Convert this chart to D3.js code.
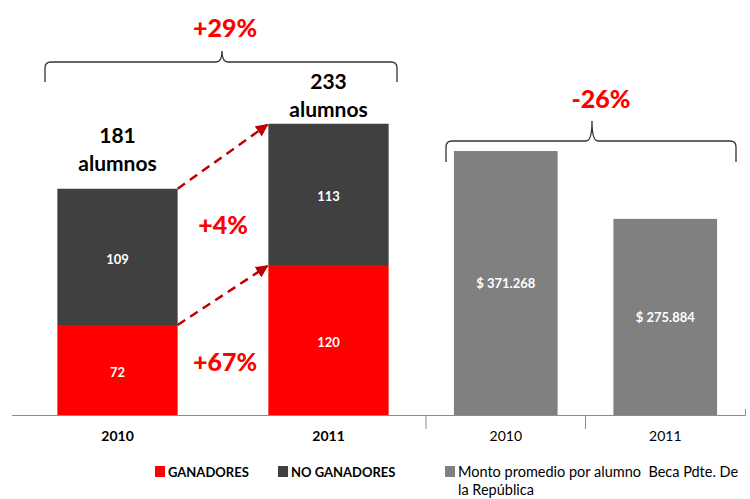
<!DOCTYPE html>
<html>
<head>
<meta charset="utf-8">
<script src="https://cdn.jsdelivr.net/npm/d3@7"></script>
<style>
  body { margin: 0; background: #fff; }
  text { font-family: Lato, "Open Sans", sans-serif; }
</style>
</head>
<body>
<div id="chart"></div>
<script>
// data
var years = ["2010", "2011"];
var ganadores = [72, 120];
var noGanadores = [109, 113];
var montoYears = ["2010", "2011"];
var monto = [371268, 275884];
var alumnoChanges = ["+4%", "+67%"];
var totalChange = "+29%";
var montoChange = "-26%";

var width = 750, height = 499;
var baseY = 415;

var colors = { gan: "#ff0000", nogan: "#404040", monto: "#808080", arrow: "#c00000", pct: "#ff0000" };

var svg = d3.select("#chart").append("svg")
  .attr("width", width)
  .attr("height", height);

var defs = svg.append("defs");
defs.append("marker")
  .attr("id", "arrow")
  .attr("viewBox", "0 0 10 10")
  .attr("refX", 9).attr("refY", 5)
  .attr("markerWidth", 5).attr("markerHeight", 5)
  .attr("orient", "auto")
  .append("path")
  .attr("d", "M0,0 L10,5 L0,10 z")
  .attr("fill", colors.arrow);

function pctLabel(x, y, txt) {
  svg.append("text")
    .attr("x", x).attr("y", y)
    .attr("text-anchor", "middle").attr("font-weight", 900)
    .attr("font-size", 25).attr("fill", colors.pct)
    .text(txt);
}

// ---------- left chart: stacked alumnos ----------
var xL = d3.scaleBand().domain(years).range([12, 434])
  .paddingInner(0.43).paddingOuter(0.215);
var yL = d3.scaleLinear().domain([0, 250]).range([baseY, baseY - 312.5]);

var stackData = years.map(function(y, i) {
  return { year: y, gan: ganadores[i], nogan: noGanadores[i] };
});
var series = d3.stack().keys(["gan", "nogan"])(stackData);

var left = svg.append("g").attr("class", "left");

series.forEach(function(s) {
  left.selectAll(".bar-" + s.key)
    .data(s).enter()
    .append("rect")
    .attr("x", (d) => xL(d.data.year))
    .attr("y", (d) => yL(d[1]))
    .attr("width", xL.bandwidth())
    .attr("height", (d) => yL(d[0]) - yL(d[1]))
    .attr("fill", colors[s.key]);

  left.selectAll(".lab-" + s.key)
    .data(s).enter()
    .append("text")
    .attr("x", (d) => xL(d.data.year) + xL.bandwidth() / 2)
    .attr("y", (d) => (yL(d[0]) + yL(d[1])) / 2 + 7)
    .attr("text-anchor", "middle")
    .attr("fill", "#fff")
    .attr("font-weight", "bold")
    .attr("font-size", 13)
    .text((d) => d[1] - d[0]);
});

// totals above bars (the 2011 one sits lower, under the brace)
var totalGap = [46, 35];
stackData.forEach(function(d, i) {
  var cx = xL(d.year) + xL.bandwidth() / 2;
  var top = yL(d.gan + d.nogan);
  var t = left.append("text")
    .attr("x", cx)
    .attr("text-anchor", "middle")
    .attr("font-weight", "bold")
    .attr("font-size", 21)
    .attr("fill", "#000");
  t.append("tspan").attr("x", cx).attr("y", top - totalGap[i]).text(d.gan + d.nogan);
  t.append("tspan").attr("x", cx).attr("y", top - totalGap[i] + 28).text("alumnos");
});

// dashed arrows between bars
var x0 = xL(years[0]) + xL.bandwidth(), x1 = xL(years[1]);
[0, 1].forEach(function(k) {
  var a = k === 0 ? stackData[0].gan : stackData[0].gan + stackData[0].nogan;
  var b = k === 0 ? stackData[1].gan : stackData[1].gan + stackData[1].nogan;
  left.append("line")
    .attr("x1", x0).attr("y1", yL(a))
    .attr("x2", x1 - 1).attr("y2", yL(b) + 1)
    .attr("stroke", colors.arrow)
    .attr("stroke-width", 2.5)
    .attr("stroke-dasharray", "9,6")
    .attr("marker-end", "url(#arrow)");
});

// change labels between bars
var midL = (x0 + x1) / 2;
pctLabel(midL, 234, alumnoChanges[0]);
pctLabel(midL + 2, 371, alumnoChanges[1]);

// ---------- right chart: monto promedio ----------
var xR = d3.scaleBand().domain(montoYears).range([426, 745])
  .paddingInner(0.35).paddingOuter(0.175);
var yR = d3.scaleLinear().domain([0, 400000]).range([baseY, baseY - 284.4]);

var fmt = function(v) { return "$ " + d3.format(",")(v).replace(/,/g, "."); };

var right = svg.append("g").attr("class", "right");
right.selectAll("rect")
  .data(monto).enter()
  .append("rect")
  .attr("x", (d, i) => xR(montoYears[i]))
  .attr("y", (d) => yR(d))
  .attr("width", xR.bandwidth())
  .attr("height", (d) => baseY - yR(d))
  .attr("fill", colors.monto);

right.selectAll(".lab")
  .data(monto).enter()
  .append("text")
  .attr("x", (d, i) => xR(montoYears[i]) + xR.bandwidth() / 2)
  .attr("y", (d) => (yR(d) + baseY) / 2 + 5)
  .attr("text-anchor", "middle")
  .attr("fill", "#fff")
  .attr("font-weight", "bold")
  .attr("font-size", 13)
  .text(fmt);

// ---------- axes ----------
var axL = svg.append("g").attr("transform", "translate(0," + baseY + ")")
  .call(d3.axisBottom(xL).tickSize(0).tickPadding(16));
axL.select(".domain").attr("d", "M12,0.5H426").attr("stroke", "#8c8c8c");
axL.selectAll("text").attr("font-size", 14).attr("font-weight", "bold")
  .attr("fill", "#000").attr("font-family", "Lato, sans-serif");

var axR = svg.append("g").attr("transform", "translate(0," + baseY + ")")
  .call(d3.axisBottom(xR).tickSize(0).tickPadding(16));
axR.select(".domain").attr("d", "M426,0.5V14M426,0.5H745.5V-6").attr("stroke", "#8c8c8c").attr("fill", "none");
axR.selectAll("text").attr("font-size", 14).attr("fill", "#000")
  .attr("font-family", "Lato, sans-serif");
axR.append("line")
  .attr("x1", 585.5).attr("x2", 585.5).attr("y1", 0).attr("y2", 14)
  .attr("stroke", "#8c8c8c");

// ---------- braces ----------
function brace(xa, xb, xm, yLine, yEnd, yTip) {
  var r = 6;
  return "M" + xa + "," + yEnd +
    " L" + xa + "," + (yLine + r) +
    " Q" + xa + "," + yLine + " " + (xa + r) + "," + yLine +
    " L" + (xm - r) + "," + yLine +
    " Q" + xm + "," + yLine + " " + xm + "," + yTip +
    " Q" + xm + "," + yLine + " " + (xm + r) + "," + yLine +
    " L" + (xb - r) + "," + yLine +
    " Q" + xb + "," + yLine + " " + xb + "," + (yLine + r) +
    " L" + xb + "," + yEnd;
}

svg.append("path")
  .attr("d", brace(45, 397, 222, 62, 82, 51))
  .attr("fill", "none").attr("stroke", "#333").attr("stroke-width", 1.3);
pctLabel(225, 37, totalChange);

svg.append("path")
  .attr("d", brace(446, 736, 592, 141, 162, 121))
  .attr("fill", "none").attr("stroke", "#333").attr("stroke-width", 1.3);
pctLabel(601, 108, montoChange);

// ---------- legend ----------
var legendItems = [
  { label: ["GANADORES"], color: colors.gan, x: 155, bold: true, size: 13 },
  { label: ["NO GANADORES"], color: colors.nogan, x: 278, bold: true, size: 13 },
  { label: ["Monto promedio por alumno  Beca Pdte. De", "la República"], color: colors.monto, x: 445, bold: false, size: 14.5 }
];
var legend = svg.append("g").attr("class", "legend");
legendItems.forEach(function(it) {
  legend.append("rect")
    .attr("x", it.x).attr("y", 466)
    .attr("width", 10).attr("height", 11)
    .attr("fill", it.color);
  var t = legend.append("text")
    .attr("font-size", it.size)
    .attr("font-weight", it.bold ? "bold" : "normal")
    .attr("fill", "#000")
    .style("white-space", "pre");
  it.label.forEach(function(l, i) {
    t.append("tspan").attr("x", it.x + 13).attr("y", 477 + i * 18).text(l);
  });
});
</script>
</body>
</html>
